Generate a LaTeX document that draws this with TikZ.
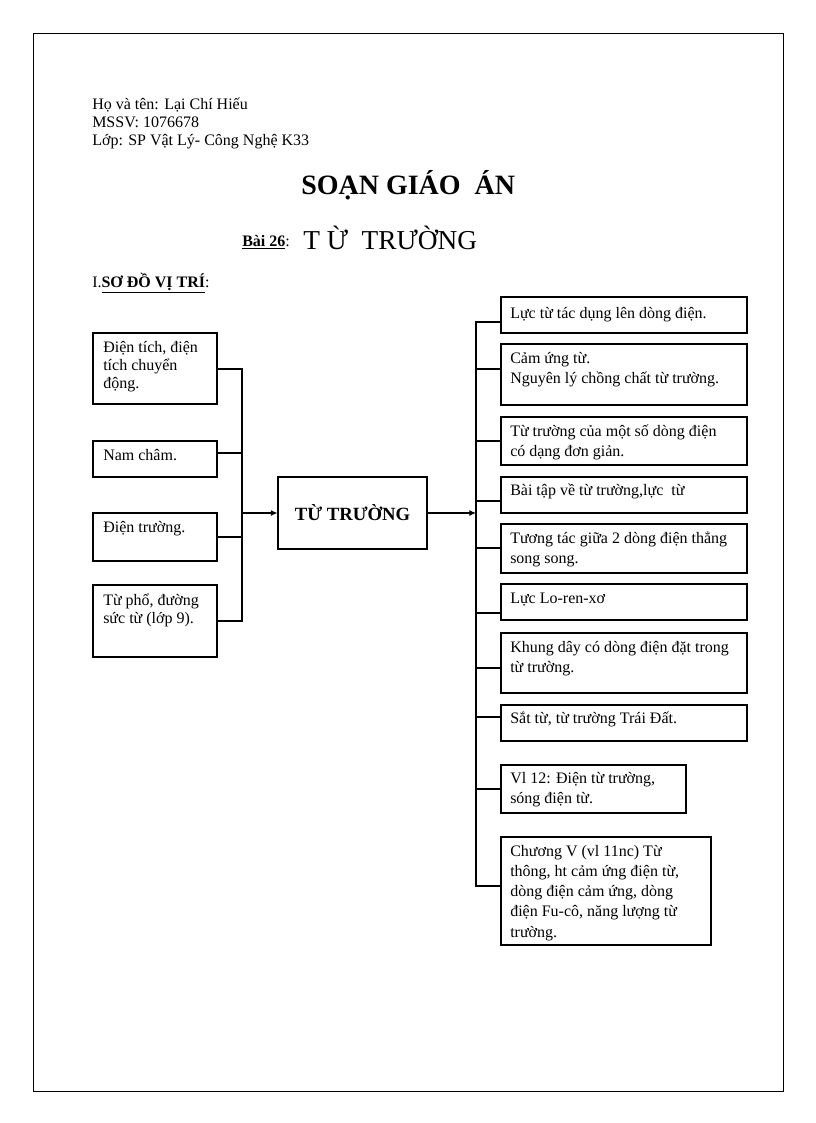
\documentclass[tikz,border=0pt]{standalone}
\usepackage{fontspec}
\setmainfont{Liberation Serif}
\usetikzlibrary{arrows.meta,fit}
\newcommand{\tlines}[1]{\begin{tabular}[t]{@{}l@{}}#1\end{tabular}}
\begin{document}
\begin{tikzpicture}[x=0.75pt,y=-0.75pt,
  box/.style={draw,line width=0.8pt,inner sep=0pt},
  ltxt/.style={anchor=base west,inner sep=0pt,font=\fontsize{12}{13.7}\selectfont},
  rtxt/.style={anchor=base west,inner sep=0pt,font=\fontsize{12}{15.2}\selectfont},
  htxt/.style={anchor=base west,inner sep=0pt,font=\fontsize{12}{14}\selectfont},
  conn/.style={line width=0.8pt},
  arr/.style={line width=0.8pt,-{Latex[length=5pt,width=4.5pt]}}]
\useasboundingbox (0,0) rectangle (816,1123);
% page frame
\node[draw,line width=0.7pt,inner sep=0pt,fit={(33,33) (783,1091)}] (frame) {};
% header
\node[htxt] (h1) at (92,110) {Họ và tên: Lại Chí Hiếu};
\node[htxt] (h2) at (92,128) {MSSV: 1076678};
\node[htxt] (h3) at (92,146) {Lớp: SP Vật Lý- Công Nghệ K33};
\node[anchor=base west,inner sep=0pt,font=\fontsize{21}{24}\selectfont\bfseries] (title) at (301,195) {SOẠN GIÁO\ \ ÁN};
\node[htxt,font=\fontsize{12}{14}\selectfont\bfseries] (bai) at (242,246) {\underline{Bài 26}\textmd{:}};
\node[anchor=base west,inner sep=0pt,font=\fontsize{20.5}{24}\selectfont] (sub) at (303,249) {T Ừ\ \ TRƯỜNG};
\node[htxt] (sec) at (92,287) {I.\underline{\textbf{SƠ ĐỒ VỊ TRÍ}}:};
% left boxes
\node[box,fit={(93,333) (217,404)}] (L1) {};
\node[box,fit={(93,441) (217,477)}] (L2) {};
\node[box,fit={(93,513) (217,561)}] (L3) {};
\node[box,fit={(93,585) (217,657)}] (L4) {};
\node[ltxt] (L1t) at (103,352) {\tlines{Điện tích, điện\\tích chuyển\\động.}};
\node[ltxt] (L2t) at (103,460) {Nam châm.};
\node[ltxt] (L3t) at (103,532) {Điện trường.};
\node[ltxt] (L4t) at (103,605) {\tlines{Từ phổ, đường\\sức từ (lớp 9).}};
% centre
\node[box,fit={(278,477) (427,549)}] (C) {};
\node[inner sep=0pt,font=\fontsize{14}{16}\selectfont\bfseries] (Ct) at (C.center) {TỪ TRƯỜNG};
% right boxes
\node[box,fit={(501,297) (747,333)}] (R1) {};
\node[box,fit={(501,344) (747,405)}] (R2) {};
\node[box,fit={(501,417) (747,465)}] (R3) {};
\node[box,fit={(501,477) (747,513)}] (R4) {};
\node[box,fit={(501,524) (747,573)}] (R5) {};
\node[box,fit={(501,584) (747,620)}] (R6) {};
\node[box,fit={(501,633) (747,693)}] (R7) {};
\node[box,fit={(501,705) (747,741)}] (R8) {};
\node[box,fit={(501,765) (686,813)}] (R9) {};
\node[box,fit={(501,837) (711,945)}] (R10) {};
\node[rtxt] (R1t) at (510,318) {Lực từ tác dụng lên dòng điện.};
\node[rtxt] (R2t) at (510,363) {\tlines{Cảm ứng từ.\\Nguyên lý chồng chất từ trường.}};
\node[rtxt] (R3t) at (510,436) {\tlines{Từ trường của một số dòng điện\\có dạng đơn giản.}};
\node[rtxt] (R4t) at (510,495) {Bài tập về từ trường,lực\ \ từ};
\node[rtxt] (R5t) at (510,543) {\tlines{Tương tác giữa 2 dòng điện thẳng\\song song.}};
\node[rtxt] (R6t) at (510,603) {Lực Lo-ren-xơ};
\node[rtxt] (R7t) at (510,652) {\tlines{Khung dây có dòng điện đặt trong\\từ trường.}};
\node[rtxt] (R8t) at (510,723) {Sắt từ, từ trường Trái Đất.};
\node[rtxt] (R9t) at (510,783) {\tlines{Vl 12: Điện từ trường,\\sóng điện từ.}};
\node[rtxt] (R10t) at (510,856) {\tlines{Chương V (vl 11nc) Từ\\thông, ht cảm ứng điện từ,\\dòng điện cảm ứng, dòng\\điện Fu-cô, năng lượng từ\\trường.}};
% buses
\coordinate (lb) at (242,513);
\coordinate (rb) at (476,513);
\draw[conn] (L1.east |- 0,369) -- (lb |- 0,369) -- (lb |- 0,621) -- (L4.east |- 0,621);
\draw[conn] (L2.east |- 0,453) -- (lb |- 0,453);
\draw[conn] (L3.east |- 0,537) -- (lb |- 0,537);
\draw[arr] (lb) -- (C.west);
\draw[arr] (C.east) -- (rb);
\draw[conn] (R1.west |- 0,322) -- (rb |- 0,322) -- (rb |- 0,886) -- (R10.west |- 0,886);
\foreach \n/\y in {R2/369,R3/441,R4/501,R5/548,R6/613,R7/668,R8/717,R9/789}
  \draw[conn] (\n.west |- 0,\y) -- (rb |- 0,\y);
\end{tikzpicture}
\end{document}
